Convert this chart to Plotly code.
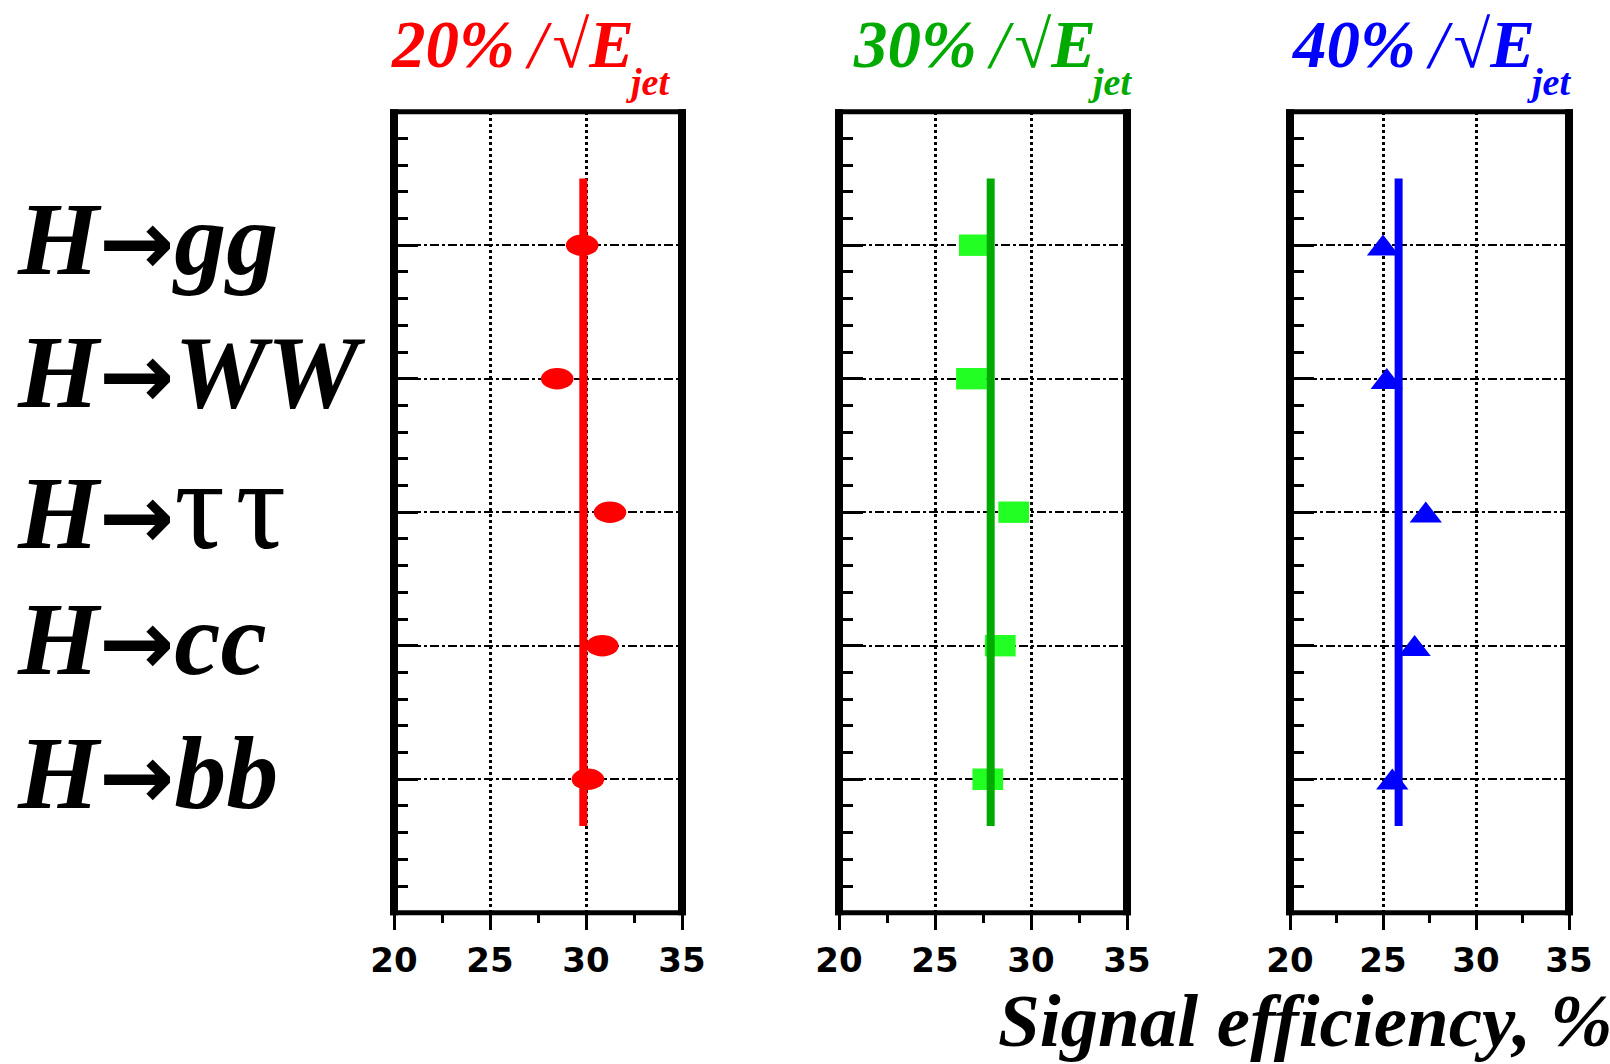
import plotly.graph_objects as go

# ---------------- data ----------------
categories = ["H→gg", "H→WW", "H→ττ", "H→cc", "H→bb"]
cat_pos = [1, 2, 3, 4, 5]
eff_20 = [29.8, 28.5, 31.25, 30.85, 30.1]
eff_30 = [27.05, 26.9, 29.1, 28.4, 27.75]
eff_40 = [25.0, 25.2, 27.3, 26.7, 25.5]
mean_eff = [29.86, 27.9, 25.84]
mean_span = [0.5, 5.35]
resolutions = ["20%", "30%", "40%"]
x_ticks = [20, 25, 30, 35]
x_range = [20, 35]
y_range = [6, 0]
x_label = "Signal efficiency, %"

# ---------------- style ----------------
W, H = 1610, 1064
line_cols = ["#ff0000", "#00aa00", "#0000ff"]
mark_cols = ["#ff0000", "#22ff22", "#0000ff"]
domains_px = [(394, 682), (839, 1127), (1290, 1569)]   # where x=20 and x=35 fall
title_end_px = [636, 1098, 1537]
ytop, ybot = 111.7, 912.7
VLW, HLW = 8, 5          # frame widths: vertical sides, horizontal sides
serif = "Liberation Serif"


def fmt_label(name):
    head, tail = name.split("→")
    arrow = ('<span style="font-family:DejaVu Sans;font-weight:bold;'
             'font-style:normal;font-size:90px">→</span>')
    if "τ" in tail:
        tail_html = ('<span style="font-weight:normal;font-style:normal;font-size:126px">'
                     + "\u200a".join(tail) + '</span>')
    else:
        tail_html = tail
    return f"<b><i>{head}{arrow}{tail_html}</i></b>"


fig = go.Figure()
shapes = []
annotations = []
panel_data = [eff_20, eff_30, eff_40]
plot_h = ybot - ytop

for i in range(3):
    sfx = "" if i == 0 else str(i + 1)
    xref, yref = "x" + sfx, "y" + sfx
    vals = panel_data[i]
    if i == 0:
        for v, c in zip(vals, cat_pos):
            shapes.append(dict(type="circle", xref=xref, yref=yref,
                               x0=v - 0.85, x1=v + 0.85, y0=c - 0.08, y1=c + 0.08,
                               fillcolor=mark_cols[i], line=dict(width=0),
                               layer="between"))
    elif i == 1:
        for v, c in zip(vals, cat_pos):
            shapes.append(dict(type="rect", xref=xref, yref=yref,
                               x0=v - 0.8, x1=v + 0.8, y0=c - 0.08, y1=c + 0.08,
                               fillcolor=mark_cols[i], line=dict(width=0),
                               layer="between"))
    else:
        fig.add_trace(go.Scatter(
            x=vals, y=[c + 0.025 for c in cat_pos], xaxis=xref, yaxis=yref,
            mode="markers",
            marker=dict(symbol="triangle-up", size=28, color=mark_cols[i],
                        line=dict(width=0)),
            showlegend=False, hoverinfo="skip"))
    fig.add_trace(go.Scatter(
        x=[mean_eff[i], mean_eff[i]], y=mean_span, xaxis=xref, yaxis=yref,
        mode="lines", line=dict(color=line_cols[i], width=8),
        showlegend=False, hoverinfo="skip"))

    l, r = domains_px[i]
    fig.layout["xaxis" + sfx] = dict(
        domain=[l / W, r / W], range=x_range, anchor=yref,
        tickvals=x_ticks, ticks="outside", ticklen=16, tickwidth=3, tickcolor="black",
        minor=dict(dtick=2.5, tick0=20, ticks="outside", ticklen=9, tickwidth=3,
                   tickcolor="black", showgrid=False),
        showgrid=True, gridcolor="black", griddash="dot", gridwidth=2.5,
        showline=False, zeroline=False, ticklabelstandoff=1, automargin=False,
        tickfont=dict(family="DejaVu Sans", size=34, color="black", weight="bold"))
    fig.layout["yaxis" + sfx] = dict(
        domain=[1 - ybot / H, 1 - ytop / H], range=y_range, anchor=xref,
        tickvals=cat_pos, ticks="inside", ticklen=24, tickwidth=3, tickcolor="black",
        showticklabels=False, automargin=False,
        minor=dict(dtick=0.2, tick0=0, ticks="inside", ticklen=14, tickwidth=3,
                   tickcolor="black", showgrid=False),
        showgrid=True, gridcolor="black", griddash="dashdot", gridwidth=2,
        showline=False, zeroline=False)

    # frame drawn in the panel's domain coordinates
    xd, yd = xref + " domain", yref + " domain"
    ext_v = (HLW / 2) / plot_h
    ext_h = (VLW / 2) / (r - l)
    for x0, x1, y0, y1, w in [
        (0, 0, -ext_v, 1 + ext_v, VLW), (1, 1, -ext_v, 1 + ext_v, VLW),
        (-ext_h, 1 + ext_h, 0, 0, HLW), (-ext_h, 1 + ext_h, 1, 1, HLW)]:
        shapes.append(dict(type="line", xref=xd, yref=yd, x0=x0, x1=x1, y0=y0, y1=y1,
                           line=dict(color="black", width=w), layer="above"))

    # title: "NN% / √E" ending at E, subscript "jet" separately
    annotations.append(dict(
        xref="paper", yref="paper", x=title_end_px[i] / W, y=1 - 44 / H,
        xanchor="right", yanchor="middle", showarrow=False,
        text=(f"<b><i>{resolutions[i]}</i></b>"
              f"<span style='font-weight:normal'>\u2009<i>/</i>\u200a√</span><b><i>E</i></b>"),
        font=dict(family=serif, size=67, color=line_cols[i])))
    annotations.append(dict(
        xref="paper", yref="paper", x=(title_end_px[i] - 12) / W, y=1 - 82 / H,
        xanchor="left", yanchor="middle", showarrow=False,
        text="<b><i>jet</i></b>",
        font=dict(family=serif, size=38, color=line_cols[i])))

for name, c in zip(categories, cat_pos):
    annotations.append(dict(
        xref="paper", yref="y", x=15 / W, y=c, xanchor="left", yanchor="middle",
        yshift=7, showarrow=False, text=fmt_label(name),
        font=dict(family=serif, size=104, color="black")))

annotations.append(dict(
    xref="paper", yref="paper", x=1614 / W, y=1 - 1020 / H, xanchor="right",
    yanchor="middle", showarrow=False, text=f"<b><i>{x_label}</i></b>",
    font=dict(family=serif, size=75, color="black")))

fig.update_layout(
    width=W, height=H, autosize=False,
    margin=dict(l=0, r=0, t=0, b=0, pad=0, autoexpand=False),
    paper_bgcolor="white", plot_bgcolor="white",
    shapes=shapes, annotations=annotations, showlegend=False)

fig.write_html("out.html", config={"displayModeBar": False, "responsive": False},
               post_script="document.body.style.margin='0';")
